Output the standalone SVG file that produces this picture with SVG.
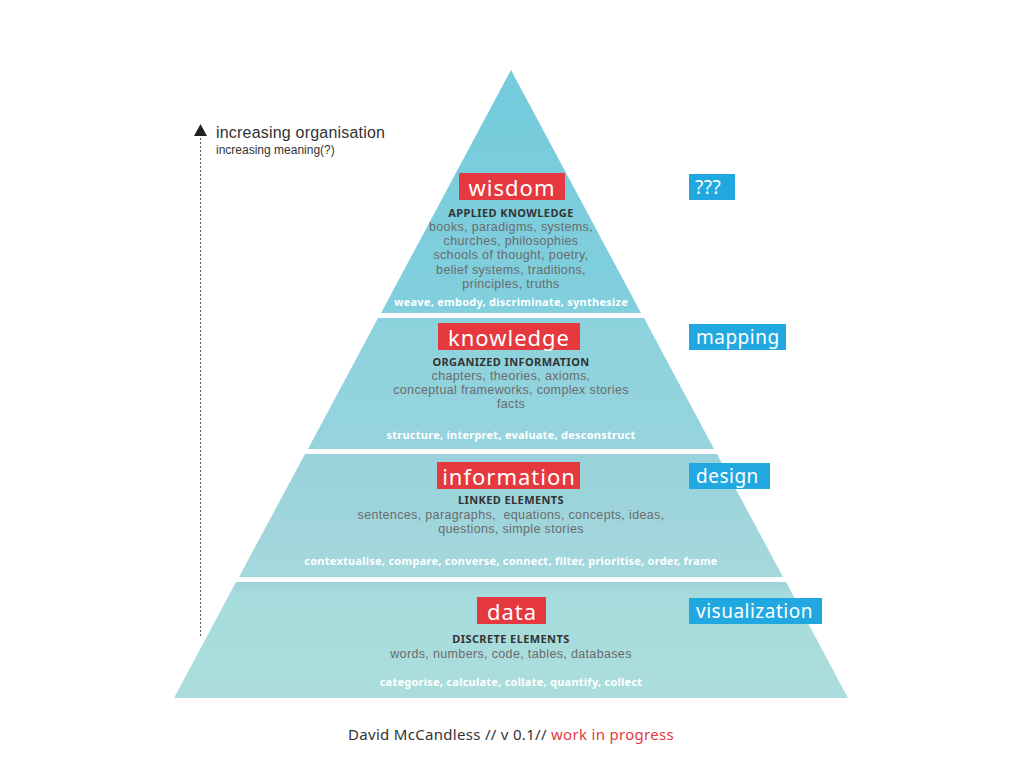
<svg xmlns="http://www.w3.org/2000/svg" width="1024" height="768" viewBox="0 0 1024 768">
<style>
text{font-family:"Noto Sans","Liberation Sans",sans-serif;text-anchor:middle;dominant-baseline:central}
.lbl{fill:#fff;font-size:22px;letter-spacing:1px}
.red{fill:#E5383F}
.blue{fill:#22A8E0}
.sub{fill:#333;font-size:11px;font-weight:bold;letter-spacing:0.4px}
.gray{fill:#6b6b6b;font-size:12.5px;letter-spacing:0.35px;font-family:"Liberation Sans",Arial,sans-serif;white-space:pre}
.act{fill:#fff;font-size:11px;font-weight:bold;letter-spacing:0.25px}
.side{fill:#fff;font-size:19px;text-anchor:start;letter-spacing:0.5px}
.ax{text-anchor:start;fill:#333;font-family:"Liberation Sans",Arial,sans-serif}
</style>
<defs>
<linearGradient id="gW" x1="0" y1="0" x2="0" y2="1"><stop offset="0" stop-color="#74CBDC"/><stop offset="1" stop-color="#82CFDD"/></linearGradient>
<linearGradient id="gK" x1="0" y1="0" x2="0" y2="1"><stop offset="0" stop-color="#8CD2DD"/><stop offset="1" stop-color="#96D4DE"/></linearGradient>
<linearGradient id="gI" x1="0" y1="0" x2="0" y2="1"><stop offset="0" stop-color="#98D2DA"/><stop offset="1" stop-color="#A5D8DD"/></linearGradient>
<linearGradient id="gD" x1="0" y1="0" x2="0" y2="1"><stop offset="0" stop-color="#9FD2D8"/><stop offset="0.12" stop-color="#A6DCDD"/><stop offset="1" stop-color="#ACDDDC"/></linearGradient>
</defs>
<rect width="1024" height="768" fill="#fff"/>

<g id="axis">
<polygon points="194,136 207,136 200.5,124" fill="#222"/>
<line x1="200.5" y1="138" x2="200.5" y2="636" stroke="#555" stroke-width="1" stroke-dasharray="2,2"/>
<text x="216" y="132" class="ax" style="font-size:16px;letter-spacing:0.2px">increasing organisation</text>
<text x="216" y="150" class="ax" style="font-size:12px">increasing meaning(?)</text>
</g>

<g id="wisdom">
<polygon points="511,70 641,313 381,313" fill="url(#gW)"/>
<rect x="459" y="173" width="106" height="27" class="red"/>
<text x="512" y="187" class="lbl">wisdom</text>
<text x="511" y="212" class="sub">APPLIED KNOWLEDGE</text>
<text x="511" y="227" class="gray">books, paradigms, systems,</text>
<text x="511" y="241" class="gray">churches, philosophies</text>
<text x="511" y="255" class="gray">schools of thought, poetry,</text>
<text x="511" y="270" class="gray">belief systems, traditions,</text>
<text x="511" y="284" class="gray">principles, truths</text>
<text x="511" y="301" class="act">weave, embody, discriminate, synthesize</text>
</g>

<g id="knowledge">
<polygon points="378,318 644,318 714,449 308,449" fill="url(#gK)"/>
<rect x="438" y="323" width="142" height="27" class="red"/>
<text x="509" y="337" class="lbl">knowledge</text>
<text x="511" y="361" class="sub">ORGANIZED INFORMATION</text>
<text x="511" y="376" class="gray">chapters, theories, axioms,</text>
<text x="511" y="390" class="gray">conceptual frameworks, complex stories</text>
<text x="511" y="404" class="gray">facts</text>
<text x="511" y="434" class="act">structure, interpret, evaluate, desconstruct</text>
</g>

<g id="information">
<polygon points="305,454 717,454 783,577 239,577" fill="url(#gI)"/>
<rect x="437" y="462" width="143" height="27" class="red"/>
<text x="509" y="476" class="lbl">information</text>
<text x="511" y="499" class="sub">LINKED ELEMENTS</text>
<text x="511" y="515" class="gray">sentences, paragraphs,  equations, concepts, ideas,</text>
<text x="511" y="529" class="gray">questions, simple stories</text>
<text x="511" y="560" class="act">contextualise, compare, converse, connect, filter, prioritise, order, frame</text>
</g>

<g id="data">
<polygon points="236,582 786,582 848,698 174,698" fill="url(#gD)"/>
<rect x="477" y="597" width="69" height="27" class="red"/>
<text x="512" y="611" class="lbl">data</text>
<text x="511" y="638" class="sub">DISCRETE ELEMENTS</text>
<text x="511" y="654" class="gray">words, numbers, code, tables, databases</text>
<text x="511" y="681" class="act">categorise, calculate, collate, quantify, collect</text>
</g>

<g id="side-labels">
<rect x="689" y="174" width="46" height="26" class="blue"/>
<text x="695" y="187" class="side">???</text>
<rect x="689" y="324" width="97" height="26" class="blue"/>
<text x="696" y="337" class="side">mapping</text>
<rect x="689" y="463" width="81" height="26" class="blue"/>
<text x="696" y="476" class="side">design</text>
<rect x="689" y="598" width="133" height="26" class="blue"/>
<text x="696" y="611" class="side">visualization</text>
</g>

<g id="connectors"></g>

<text x="511" y="734" style="font-size:15px;fill:#333;letter-spacing:0.3px">David McCandless // v 0.1// <tspan fill="#E5383F">work in progress</tspan></text>
</svg>
